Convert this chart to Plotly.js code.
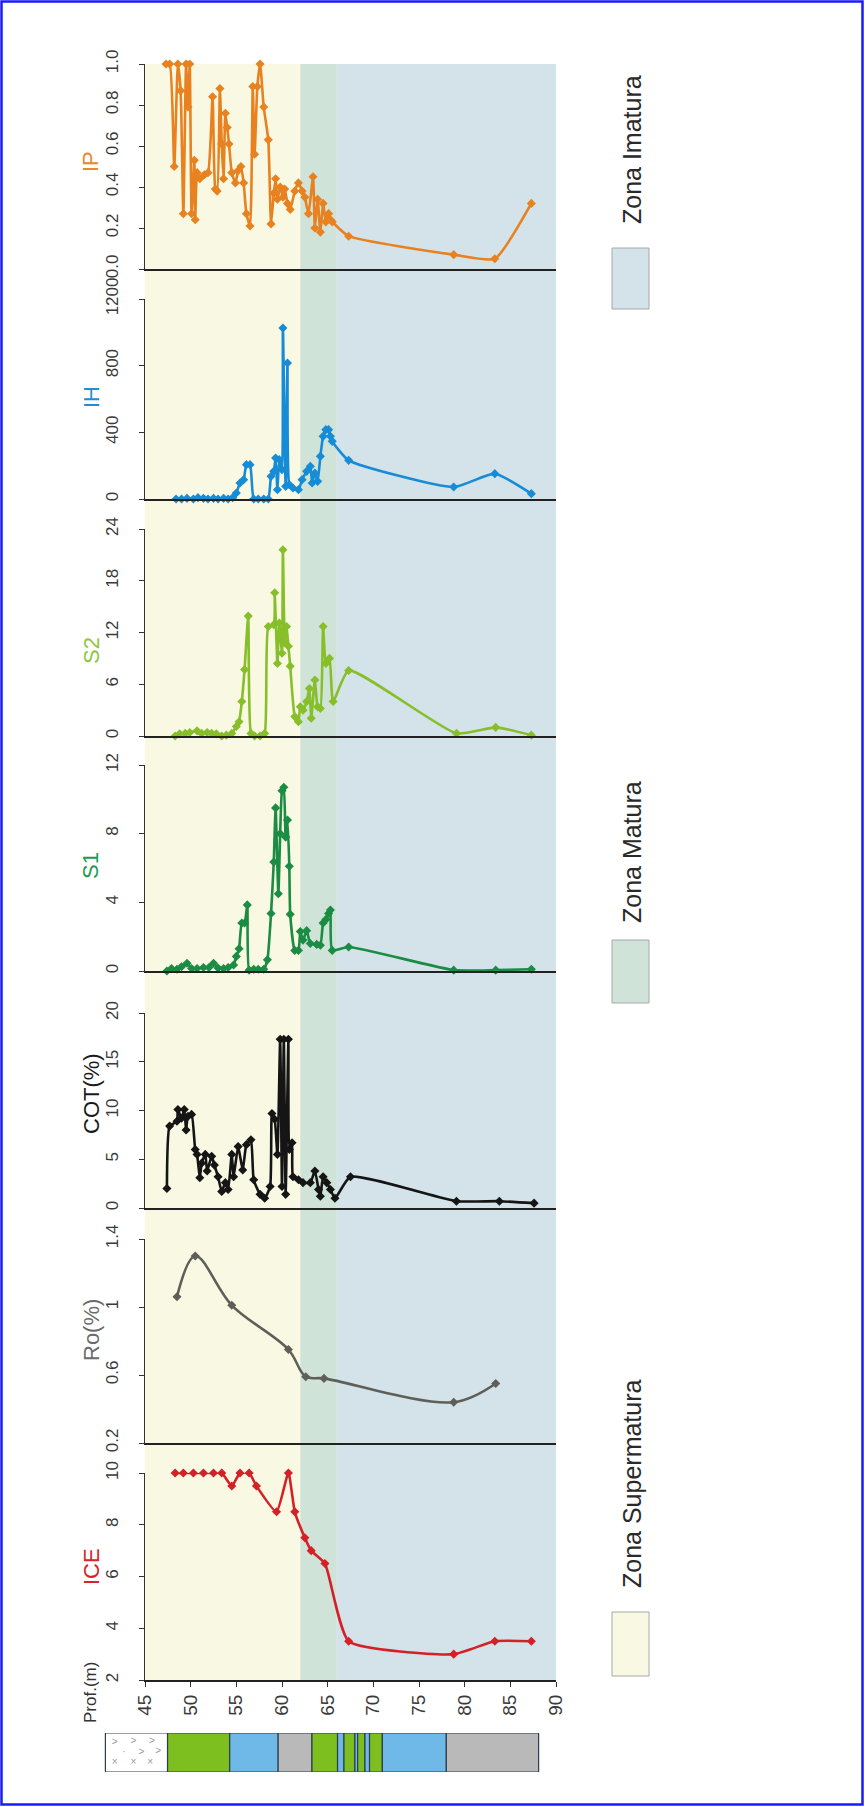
<!DOCTYPE html>
<html>
<head>
<meta charset="utf-8">
<script src="https://cdn.plot.ly/plotly-3.0.1.min.js"></script>
<style>
  html, body { margin: 0; padding: 0; background: #ffffff; }
  #chart { width: 865px; height: 1807px; }
</style>
</head>
<body>
<div id="chart"></div>
<script>
// ---- Geochemical log data (depth in metres) ----
const ipDepth = [47.3,47.7,48.2,48.6,48.9,49.2,49.5,49.7,49.9,50.1,50.4,50.5,50.7,51.0,51.5,51.9,52.4,52.7,52.9,53.2,53.4,53.6,53.8,54.0,54.2,54.5,54.9,55.2,55.5,55.8,56.1,56.5,56.8,57.0,57.3,57.6,58.0,58.5,58.8,59.1,59.3,59.5,59.8,60.1,60.3,60.6,60.9,61.4,61.8,62.2,62.5,62.9,63.4,63.6,63.9,64.2,64.5,64.8,65.1,65.3,65.5,67.3,78.8,83.3,87.3];
const ipValue = [1.0,1.0,0.5,1.0,0.87,0.27,1.0,0.79,1.0,0.27,0.53,0.24,0.47,0.44,0.46,0.47,0.84,0.39,0.38,0.88,0.61,0.44,0.76,0.69,0.61,0.47,0.42,0.48,0.5,0.42,0.27,0.21,0.89,0.56,0.89,1.0,0.79,0.63,0.22,0.37,0.44,0.34,0.40,0.35,0.39,0.32,0.29,0.38,0.42,0.38,0.35,0.27,0.45,0.20,0.34,0.18,0.32,0.23,0.27,0.24,0.23,0.16,0.07,0.05,0.32];

const ihDepth = [48.4,49.0,49.6,50.3,50.8,51.4,51.9,52.5,53.0,53.6,54.1,54.6,55.0,55.4,55.8,56.1,56.5,56.9,57.4,58.0,58.5,58.8,59.1,59.3,59.5,59.7,60.0,60.1,60.4,60.6,60.8,61.2,61.8,62.2,62.7,63.1,63.3,63.6,63.9,64.2,64.5,64.8,65.1,65.3,65.5,67.3,78.8,83.3,87.3];
const ihValue = [0,0,4,0,8,4,0,4,0,4,0,8,36,96,116,206,206,0,0,0,0,136,166,246,56,236,176,1026,76,816,86,66,56,116,166,196,96,156,106,256,376,416,416,376,346,232,72,152,32];

const s2Depth = [48.3,48.8,49.4,49.9,50.7,51.2,51.8,52.3,52.8,53.4,53.9,54.5,55.0,55.3,55.6,55.9,56.3,56.6,57.0,57.6,58.1,58.5,59.1,59.2,59.5,59.7,60.0,60.1,60.3,60.5,60.7,60.9,61.4,61.8,62.0,62.3,62.7,63.0,63.2,63.6,63.9,64.2,64.5,64.8,65.2,65.6,67.3,79.1,83.4,87.3];
const s2Value = [0,0.25,0.3,0.4,0.6,0.3,0.4,0.3,0.25,0,0.1,0.3,1.1,1.65,4.0,7.7,13.9,0.3,0,0,0.3,12.7,12.9,16.6,8.4,13.1,9.6,21.6,10.8,12.7,10.4,8.1,2.25,1.65,3.4,3.0,4.0,5.5,2.05,6.5,3.4,3.2,12.7,8.4,9.0,4.0,7.6,0.3,1.0,0.1];

const s1Depth = [47.4,47.9,48.5,49.0,49.6,50.1,50.7,51.4,52.0,52.5,53.0,53.6,54.1,54.7,55.0,55.3,55.6,55.9,56.2,56.4,56.9,57.4,58.0,58.4,58.8,59.1,59.3,59.6,59.8,60.0,60.2,60.4,60.6,60.8,60.9,61.4,61.8,62.0,62.3,62.7,63.1,63.8,64.2,64.5,64.8,65.1,65.3,65.5,67.3,78.8,83.4,87.3];
const s1Value = [0,0.15,0.1,0.25,0.45,0.15,0.15,0.2,0.2,0.45,0.17,0.15,0.2,0.35,0.85,1.3,2.8,2.8,3.85,0.05,0.1,0.1,0.1,0.65,3.35,6.35,9.5,4.5,8.0,10.5,10.7,7.8,8.8,6.1,3.3,1.2,1.2,2.3,1.8,2.35,1.6,1.55,1.5,2.8,3.0,3.35,3.55,1.2,1.4,0.05,0.05,0.1];

const cotDepth = [47.4,47.7,48.5,48.6,49.0,49.3,49.5,49.7,50.1,50.5,50.7,51.0,51.2,51.6,51.8,52.3,52.6,53.0,53.4,53.8,54.1,54.5,54.7,55.2,55.7,56.1,56.6,56.9,57.6,58.1,58.7,58.9,59.2,59.5,59.8,60.0,60.2,60.4,60.7,60.8,61.1,61.2,61.8,62.3,63.1,63.6,64.0,64.2,64.5,64.9,65.3,65.8,67.5,79.1,83.8,87.6];
const cotValue = [2.0,8.4,8.9,10.1,9.2,10.1,8.0,9.4,9.6,6.0,5.5,3.1,4.6,5.5,3.8,5.3,4.4,3.2,1.7,2.6,1.9,5.5,3.2,6.3,3.9,6.5,7.0,2.9,1.4,1.0,2.2,9.7,9.1,5.5,17.3,2.2,17.3,1.4,17.3,6.0,6.7,3.2,2.9,2.6,2.6,3.8,1.9,1.2,3.2,2.6,1.9,1.0,3.2,0.7,0.7,0.5];

const roDepth = [48.5,50.5,54.5,60.7,62.6,64.6,78.8,83.4];
const roValue = [1.06,1.30,1.01,0.75,0.59,0.58,0.44,0.55];

const iceDepth = [48.3,49.2,50.3,51.4,52.5,53.4,54.5,55.4,56.4,57.2,59.4,60.7,61.4,62.5,63.2,64.7,67.3,78.8,83.3,87.3];
const iceValue = [10,10,10,10,10,10,9.5,10,10,9.5,8.5,10,8.5,7.5,7.0,6.5,3.5,3.0,3.5,3.5];

// depth tick labels
const depthTicks = [45,50,55,60,65,70,75,80,85,90];
const roTicks = [0.2,0.6,1,1.4];
const roTickText = ['0.2','0.6','1','1.4'];

// maturity zones
const zoneNames = ['Zona Supermatura','Zona Matura','Zona Imatura'];
const zoneFrom = [45,62,66];
const zoneTo = [62,66,90];

// lithology column
const lithFrom = [40.7,47.5,54.3,59.6,63.3,66.1,66.8,68.0,68.3,69.1,69.6,71.0,78.0];
const lithTo   = [47.5,54.3,59.6,63.3,66.1,66.8,68.0,68.3,69.1,69.6,71.0,78.0,88.1];
const lithKind = ['tuff','green','blue','grey','green','blue','green','blue','green','blue','green','blue','grey'];

// ---- styling ----
const W = 865, H = 1807, M = 20;
const PW = W - 2 * M, PH = H - 2 * M;
const fx = px => (px - M) / PW;          // pixel column -> paper x
const fy = py => (H - M - py) / PH;      // pixel row -> paper y

const FONT = 'Liberation Sans, Arial, Helvetica, sans-serif';
const zoneColors = ['#f9f9e3', '#cfe3d8', '#d4e2e9'];
const lithColors = { tuff: '#ffffff', green: '#7cbf1f', blue: '#6fb9e8', grey: '#b9b9b9' };

const panels = [
  { title: 'IP',     x: ipDepth,  y: ipValue,  color: '#e8811f', tcolor: '#e8892a', top: 64,   bottom: 269,  range: [0, 1],     dtick: 0.2, fmt: '.1f', ty: 162,  smooth: 0.5 },
  { title: 'IH',     x: ihDepth,  y: ihValue,  color: '#178cd6', tcolor: '#1c8fd8', top: 299,  bottom: 499,  range: [0, 1200],  dtick: 400, ty: 397,  smooth: 0.5 },
  { title: 'S2',     x: s2Depth,  y: s2Value,  color: '#86bf2a', tcolor: '#8dc63f', top: 529,  bottom: 736,  range: [0, 24],    dtick: 6,   ty: 651,  smooth: 0.5 },
  { title: 'S1',     x: s1Depth,  y: s1Value,  color: '#1b8c43', tcolor: '#1e9a55', top: 765,  bottom: 971,  range: [0, 12],    dtick: 4,   ty: 866,  smooth: 0.5 },
  { title: 'COT(%)', x: cotDepth, y: cotValue, color: '#151515', tcolor: '#1a1a1a', top: 1013, bottom: 1208, range: [0, 20],    dtick: 5,   ty: 1094, smooth: 0.5 },
  { title: 'Ro(%)',  x: roDepth,  y: roValue,  color: '#5f5f5a', tcolor: '#6b6b6b', top: 1239, bottom: 1443, range: [0.2, 1.4], ticks: roTicks, tickText: roTickText, ty: 1330, smooth: 1.0 },
  { title: 'ICE',    x: iceDepth, y: iceValue, color: '#d42027', tcolor: '#d8232a', top: 1473, bottom: 1680, range: [2, 10],    dtick: 2,   ty: 1567, smooth: 0.5 }
];

const traces = [];
const layout = {
  width: W, height: H,
  margin: { l: M, r: M, t: M, b: M },
  paper_bgcolor: '#ffffff',
  plot_bgcolor: 'rgba(0,0,0,0)',
  showlegend: false,
  barmode: 'overlay',
  font: { family: FONT, color: '#333333' },
  shapes: [],
  annotations: []
};

const xDomain = [fx(145), fx(556)];

panels.forEach((p, i) => {
  const n = i === 0 ? '' : String(i + 1);
  traces.push({
    type: 'scatter', mode: 'lines+markers',
    x: p.x, y: p.y, xaxis: 'x' + n, yaxis: 'y' + n,
    line: { color: p.color, width: 2.6, shape: 'spline', smoothing: p.smooth },
    marker: { color: p.color, size: 7, symbol: 'diamond' },
    hoverinfo: 'skip', cliponaxis: false
  });
  const last = i === panels.length - 1;
  layout['xaxis' + n] = {
    domain: xDomain, range: [45, 90], anchor: 'y' + n,
    matches: i === 0 ? undefined : 'x',
    showline: true, linecolor: '#222222', linewidth: 2,
    showgrid: false, zeroline: false,
    ticks: last ? 'outside' : '', ticklen: 5, tickcolor: '#333333',
    showticklabels: last,
    tickmode: 'array', tickvals: depthTicks,
    tickangle: -90, tickfont: { size: 19, color: '#3a3a3a' }
  };
  const ya = {
    domain: [fy(p.bottom), fy(p.top)], range: p.range, anchor: 'x' + n,
    showline: true, linecolor: '#333333', linewidth: 1,
    showgrid: false, zeroline: false,
    ticks: 'outside', ticklen: 5, tickcolor: '#333333',
    ticklabelstandoff: 14,
    tickangle: -90, tickfont: { size: 17, color: '#3a3a3a' }
  };
  if (p.ticks) { ya.tickmode = 'array'; ya.tickvals = p.ticks; ya.ticktext = p.tickText; }
  else { ya.tick0 = p.range[0]; ya.dtick = p.dtick; }
  if (p.fmt) ya.tickformat = p.fmt;
  layout['yaxis' + n] = ya;

  layout.annotations.push({
    xref: 'paper', yref: 'paper', x: fx(91), y: fy(p.ty),
    text: p.title, textangle: -90, showarrow: false,
    xanchor: 'center', yanchor: 'middle',
    font: { size: 22, color: p.tcolor, family: FONT }
  });
});

// depth label
layout.annotations.push({
  xref: 'paper', yref: 'paper', x: fx(90), y: fy(1693),
  text: 'Prof.(m)', textangle: -90, showarrow: false,
  xanchor: 'center', yanchor: 'middle',
  font: { size: 17, color: '#333333', family: FONT }
});

// maturity background bands spanning every panel
zoneFrom.forEach((z, i) => {
  layout.shapes.push({
    type: 'rect', xref: 'x', yref: 'paper', layer: 'below',
    x0: z, x1: zoneTo[i], y0: fy(1680), y1: fy(64),
    fillcolor: zoneColors[i], line: { width: 0 }
  });
});

// legend boxes and labels (rotated)
const legendBox = [[1612, 1676], [940, 1003], [248, 309]];
const legendText = [1484, 852, 150];
zoneNames.forEach((name, i) => {
  layout.shapes.push({
    type: 'rect', xref: 'paper', yref: 'paper',
    x0: fx(612), x1: fx(649), y0: fy(legendBox[i][1]), y1: fy(legendBox[i][0]),
    fillcolor: zoneColors[i], line: { color: '#a8a8a8', width: 1 }
  });
  layout.annotations.push({
    xref: 'paper', yref: 'paper', x: fx(632), y: fy(legendText[i]),
    text: name, textangle: -90, showarrow: false,
    xanchor: 'center', yanchor: 'middle',
    font: { size: 25, color: '#2a2a2a', family: FONT }
  });
});

// lithology column
traces.push({
  type: 'bar', orientation: 'h', xaxis: 'x8', yaxis: 'y8',
  y: lithFrom.map(() => 0),
  x: lithFrom.map((f, i) => lithTo[i] - f),
  base: lithFrom, width: 1,
  marker: { color: lithKind.map(k => lithColors[k]), line: { color: '#2d3d4f', width: 1.2 } },
  hoverinfo: 'skip'
});

// tuff symbols scattered inside the pyroclastic interval
const tuffX = [], tuffY = [], tuffT = [];
lithKind.forEach((k, i) => {
  if (k !== 'tuff') return;
  const span = lithTo[i] - lithFrom[i];
  [[0.15, 0.25, '>'], [0.45, 0.27, '>'], [0.75, 0.27, '>'],
   [0.3, 0.0, '·'], [0.58, 0.0, '>'], [0.85, 0.02, '>'],
   [0.15, -0.25, '×'], [0.45, -0.25, '×'], [0.72, -0.25, '×']].forEach(([fr, dy, ch]) => {
    tuffX.push(lithFrom[i] + fr * span); tuffY.push(dy); tuffT.push(ch);
  });
});
traces.push({
  type: 'scatter', mode: 'text', xaxis: 'x8', yaxis: 'y8',
  x: tuffX, y: tuffY, text: tuffT,
  textfont: { size: 10, color: '#9a9a9a', family: FONT },
  hoverinfo: 'skip'
});
layout.xaxis8 = { domain: [fx(99), fx(556)], range: [40, 90], anchor: 'y8', visible: false, fixedrange: true };
layout.yaxis8 = { domain: [fy(1772), fy(1733)], range: [-0.5, 0.5], anchor: 'x8', visible: false };

// outer frame
layout.shapes.push({
  type: 'rect', xref: 'paper', yref: 'paper',
  x0: fx(1.5), x1: fx(862.5), y0: fy(1804.5), y1: fy(1.5),
  line: { color: '#1a1aff', width: 2.5 }, fillcolor: 'rgba(0,0,0,0)'
});

Plotly.newPlot('chart', traces, layout, { staticPlot: true, displayModeBar: false });
</script>
</body>
</html>
